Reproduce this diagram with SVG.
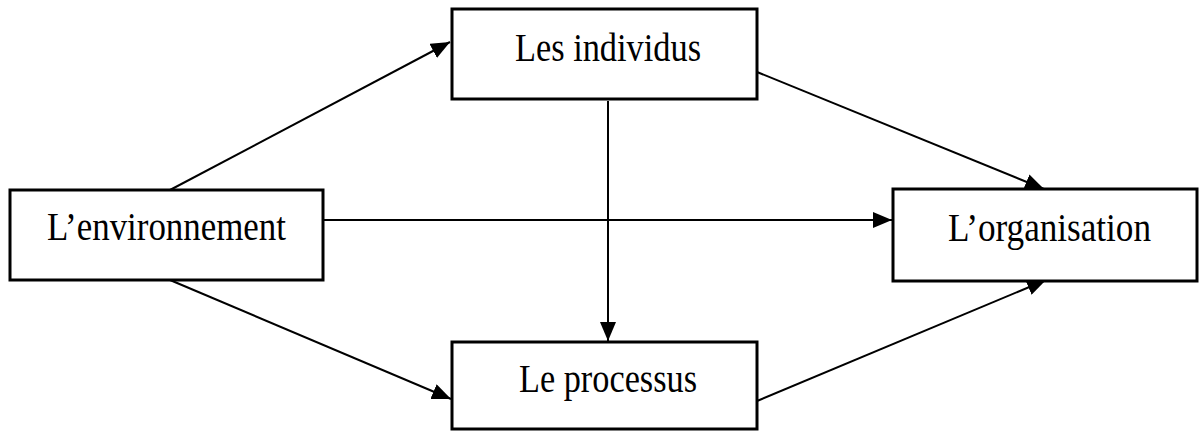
<svg xmlns="http://www.w3.org/2000/svg" width="1202" height="432" viewBox="0 0 1202 432">
<style>
.box{fill:#fff;stroke:#000;stroke-width:3}
.lbl{font-family:"Liberation Serif","Times New Roman",serif;font-size:40px;fill:#000;text-anchor:middle}
.edge{stroke:#000;stroke-width:2;fill:none}
</style>
<defs>
<marker id="ah" markerUnits="userSpaceOnUse" markerWidth="20" markerHeight="16" refX="19" refY="8" orient="auto">
<path d="M0,0 L19,8 L0,16 Z" fill="#000"/>
</marker>
</defs>
<rect width="1202" height="432" fill="#fff"/>
<g id="connectors">
<line class="edge" x1="170" y1="190" x2="450" y2="42" marker-end="url(#ah)"/>
<line class="edge" x1="323" y1="220" x2="892" y2="220" marker-end="url(#ah)"/>
<line class="edge" x1="170" y1="280" x2="451" y2="399" marker-end="url(#ah)"/>
<line class="edge" x1="608" y1="101" x2="608" y2="341" marker-end="url(#ah)"/>
<line class="edge" x1="757" y1="72" x2="1044" y2="189" marker-end="url(#ah)"/>
<line class="edge" x1="757" y1="401" x2="1046" y2="280" marker-end="url(#ah)"/>
</g>
<g id="env">
<rect class="box" x="10" y="190" width="313" height="90"/>
<text class="lbl" x="166.5" y="240" textLength="239" lengthAdjust="spacingAndGlyphs">L’environnement</text>
</g>
<g id="individus">
<rect class="box" x="452" y="9" width="305" height="90"/>
<text class="lbl" x="608" y="61" textLength="186" lengthAdjust="spacingAndGlyphs">Les individus</text>
</g>
<g id="processus">
<rect class="box" x="452" y="342" width="305" height="87"/>
<text class="lbl" x="608" y="392" textLength="178" lengthAdjust="spacingAndGlyphs">Le processus</text>
</g>
<g id="organisation">
<rect class="box" x="893" y="189" width="304" height="92"/>
<text class="lbl" x="1049.5" y="241" textLength="203" lengthAdjust="spacingAndGlyphs">L’organisation</text>
</g>
</svg>
